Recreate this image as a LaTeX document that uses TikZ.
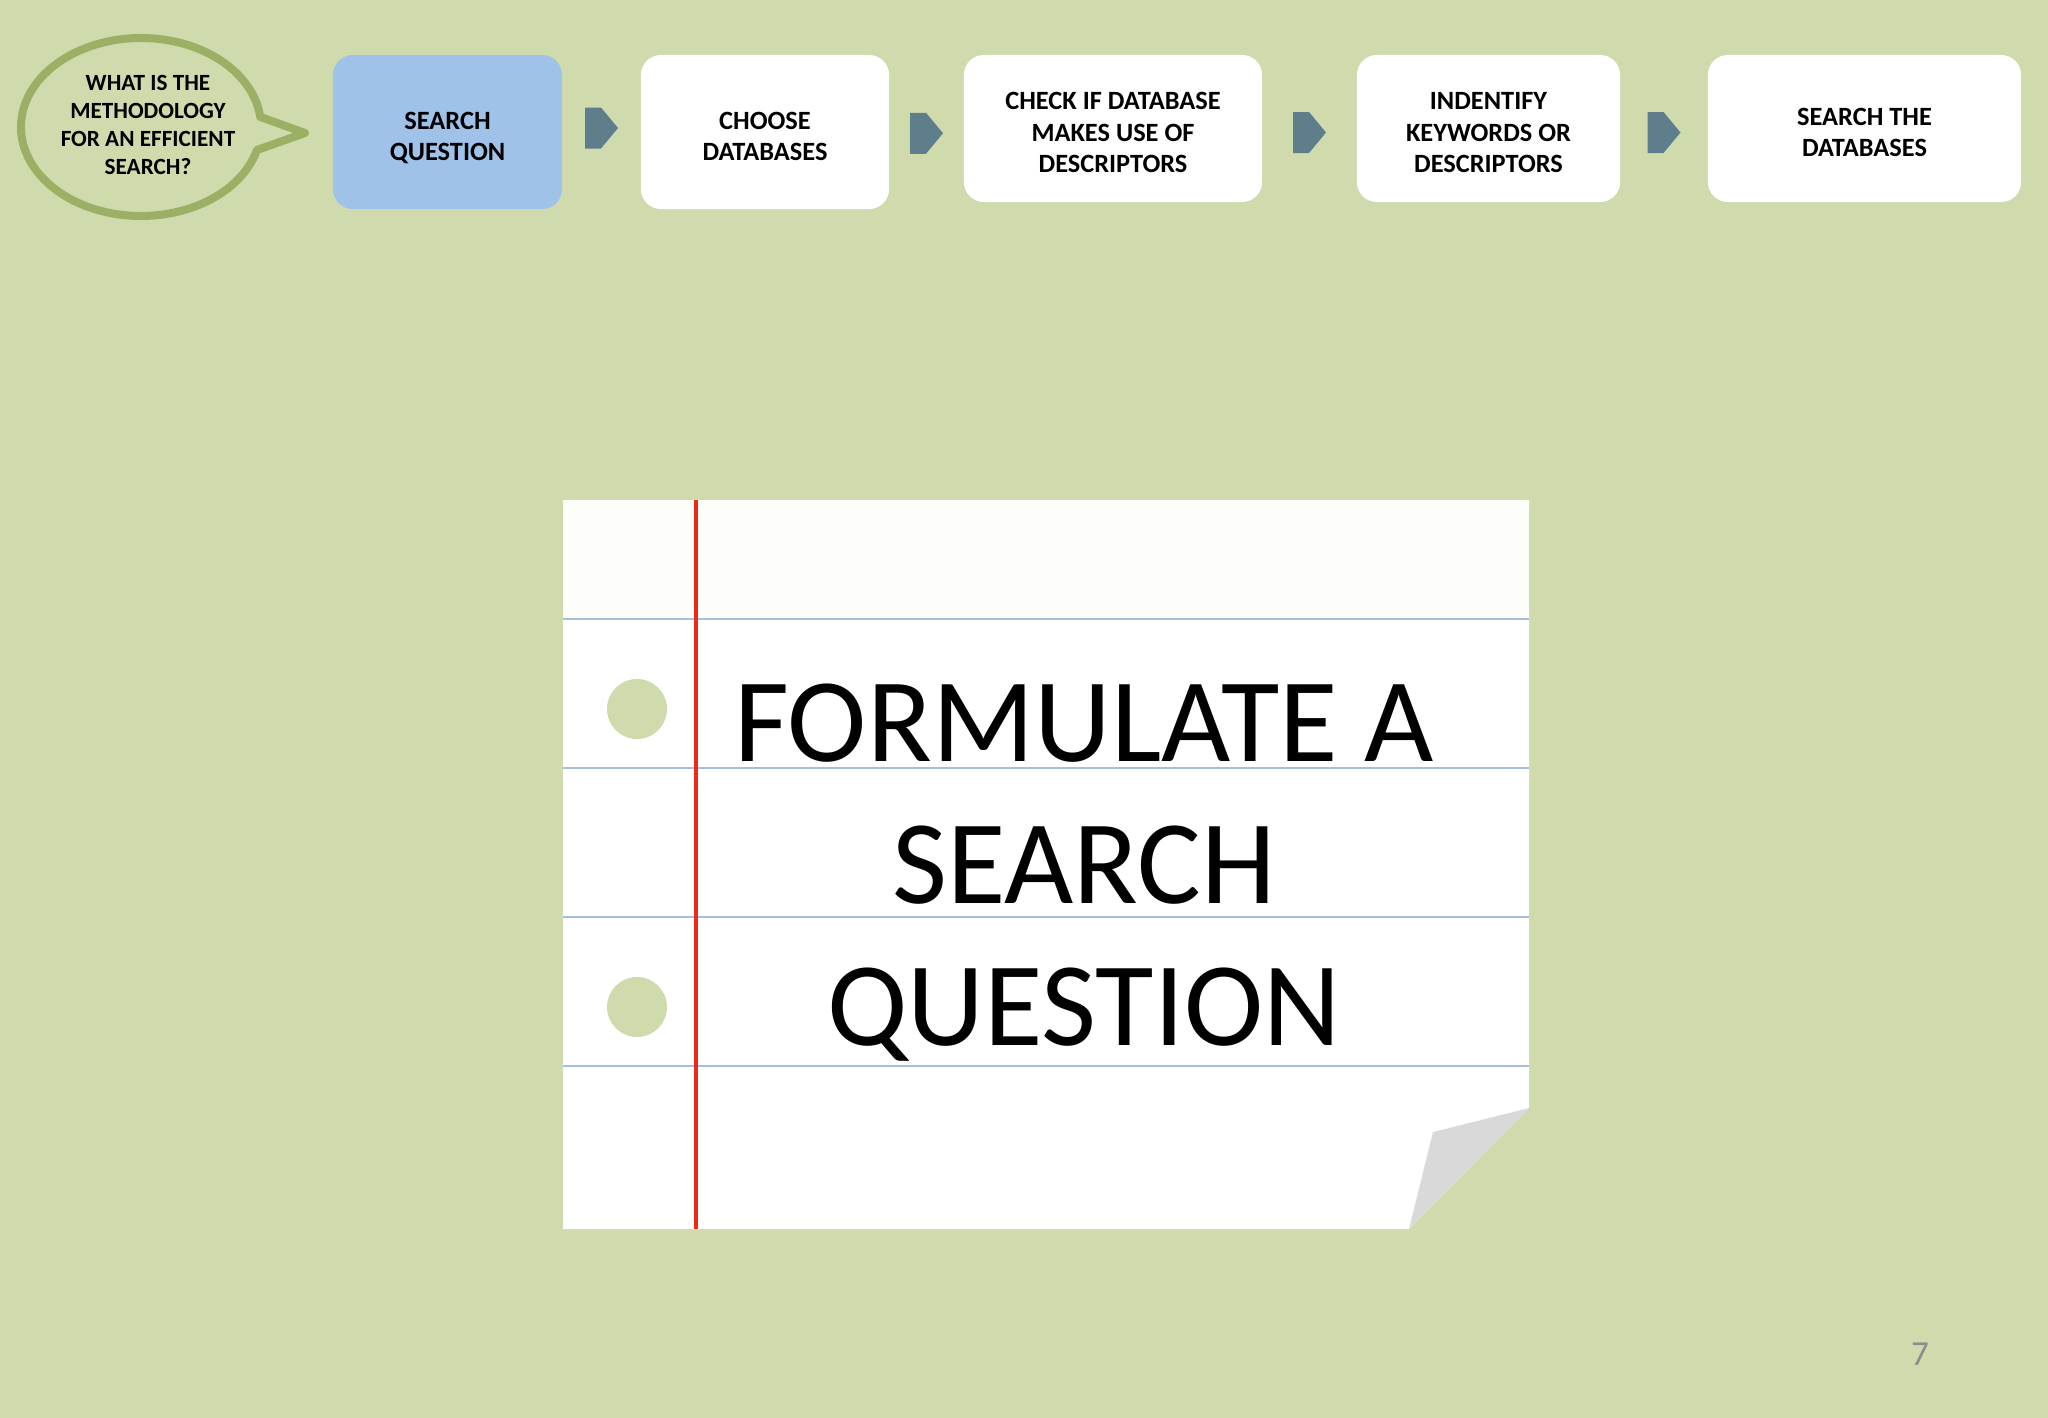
\documentclass[tikz,border=0pt]{standalone}
\usepackage{fontspec}
\setmainfont{Carlito}
\usetikzlibrary{calc}

\definecolor{slidebg}{HTML}{CFDBAD}
\definecolor{bubgreen}{HTML}{9BB065}
\definecolor{boxblue}{HTML}{A0C1E8}
\definecolor{chevgray}{HTML}{5E7E8C}
\definecolor{ruleblue}{HTML}{A5BEE0}
\definecolor{marginred}{HTML}{EE2A16}
\definecolor{flapgray}{HTML}{D9D9D9}
\definecolor{papercream}{HTML}{FDFDFA}

\begin{document}
\begin{tikzpicture}[x=0.01cm, y=-0.01cm,
    stepbox/.style={rounded corners=0.2cm, inner sep=0pt},
    steptext/.style={align=center, inner sep=0pt, text depth=0pt,
        font=\fontsize{7.5}{8.9}\selectfont\bfseries},
    bubtext/.style={align=center, inner sep=0pt, font=\fontsize{6.6}{8}\selectfont\bfseries},
    bubline/.style={draw=bubgreen, line width=0.08cm, line join=round},
    chev/.style={fill=chevgray},
    rule/.style={draw=ruleblue, line width=0.45pt},
    bigtext/.style={align=center, inner sep=0pt, font=\fontsize{34}{40.4}\selectfont}]

                % Background of the slide
                \fill[slidebg] (0,0) rectangle (2048,1418);

                % Speech bubble with the question
                \coordinate (bub) at (141,127);
                \draw[bubline] (bub) ++(15:120 and 89)
                    arc[start angle=15, end angle=353.5, x radius=120, y radius=89]
                    -- (305,133) -- cycle;
                \node[bubtext] (q) at (148,125) {WHAT IS THE\\METHODOLOGY\\FOR AN EFFICIENT\\SEARCH?};

                % Draw the steps of the method
                \foreach \n/\x/\y/\w/\h/\c/\t in {
                    b1/447.5/132/2.29/1.54/boxblue/{SEARCH\\QUESTION},
                    b2/765/132/2.48/1.54/white/{CHOOSE\\DATABASES},
                    b3/1113/128.5/2.98/1.47/white/{CHECK IF DATABASE\\MAKES USE OF\\DESCRIPTORS},
                    b4/1488.5/128.5/2.63/1.47/white/{INDENTIFY\\KEYWORDS OR\\DESCRIPTORS},
                    b5/1864.5/128.5/3.13/1.47/white/{SEARCH THE\\DATABASES}} {
                    \node[stepbox, fill=\c, minimum width=\w cm, minimum height=\h cm] (\n) at (\x,\y) {};
                    \node[steptext] (\n-t) at ($(\n)+(0,4)$) {\t};
                }

                % Chevrons between the steps
                \foreach \a/\b/\dy in {b1/b2/-4, b2/b3/3, b3/b4/4, b4/b5/4} {
                    \fill[chev] ($(\a.east)!0.5!(\b.west)$) ++(-16.5,-20.5+\dy)
                        -- ++(16,0) -- ++(17,20.5) -- ++(-17,20.5) -- ++(-16,0) -- cycle;
                }

                % Draw the note paper
                \fill[white] (563,500) -- (1529,500) -- (1529,1108) -- (1409,1229) -- (563,1229) -- cycle;
                \fill[papercream] (563,500) rectangle (1529,619);
                \foreach \y in {619, 768, 917, 1066} {
                    \draw[rule] (563,\y) -- (1529,\y); % ruled line
                }
                \draw[marginred, line width=0.04cm] (696,500) -- (696,1229); % margin
                \foreach \y in {709, 1007} {
                    \fill[slidebg] (637,\y) circle[radius=30]; % punched hole
                }
                \fill[flapgray] (1529,1108) -- (1433,1132) -- (1409,1229) -- cycle; % curled corner

                % Text on the paper
                \node[bigtext] (title) at (1084,873) {FORMULATE A\\SEARCH\\QUESTION};

                % Slide number
                \node[text=black!45, font=\fontsize{10}{12}\selectfont] (pg) at (1920,1354) {7};

\end{tikzpicture}
\end{document}
